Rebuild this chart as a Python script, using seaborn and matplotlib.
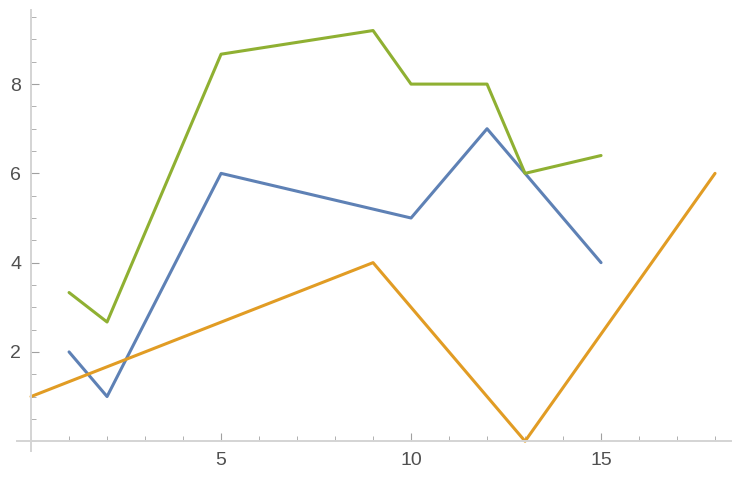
import matplotlib
matplotlib.use('Agg')
import matplotlib.pyplot as plt
import seaborn as sns
import pandas as pd
from matplotlib.ticker import MultipleLocator

# series
blue_x = [1, 2, 5, 10, 12, 15]
blue_y = [2, 1, 6, 5, 7, 4]
orange_x = [0, 9, 13, 18]
orange_y = [1, 4, 0, 6]
green_x = [1, 2, 5, 9, 10, 12, 13, 15]
green_y = [3.33, 2.67, 8.67, 9.2, 8, 8, 6, 6.4]

COLORS = ['#5E81B5', '#E19C24', '#8FB032']

sns.set_style('white')
plt.rcParams['font.family'] = ['Liberation Sans', 'DejaVu Sans']

fig = plt.figure(figsize=(7.42, 4.8), dpi=100)
ax = fig.add_axes([17 / 742, 29 / 480, 714 / 742, 441 / 480])

for xs, ys, color in zip([blue_x, orange_x, green_x],
                         [blue_y, orange_y, green_y], COLORS):
    df = pd.DataFrame({'x': xs, 'y': ys})
    sns.lineplot(data=df, x='x', y='y', sort=False, color=color,
                 linewidth=2.2, ax=ax)

ax.set_xlim(-0.37, 18.42)
ax.set_ylim(-0.22, 9.66)
ax.set_xlabel('')
ax.set_ylabel('')

for side in ['top', 'right']:
    ax.spines[side].set_visible(False)
for side in ['left', 'bottom']:
    ax.spines[side].set_position(('data', 0))
    ax.spines[side].set_color('#D4D4D4')
    ax.spines[side].set_linewidth(1.4)

ax.xaxis.set_minor_locator(MultipleLocator(1))
ax.yaxis.set_minor_locator(MultipleLocator(0.5))
ax.set_xticks([5, 10, 15])
ax.set_yticks([2, 4, 6, 8])

ax.tick_params(which='both', bottom=True, left=True, top=False, right=False)
ax.tick_params(which='major', direction='in', length=6, width=0.8,
               color='#A0A0A0', labelsize=14, labelcolor='#505050')
ax.tick_params(which='minor', direction='in', length=3.5, width=0.7,
               color='#B0B0B0')
ax.tick_params(axis='x', which='major', pad=8)
ax.tick_params(axis='y', which='major', pad=7)

fig.savefig('out.png', dpi=100)
